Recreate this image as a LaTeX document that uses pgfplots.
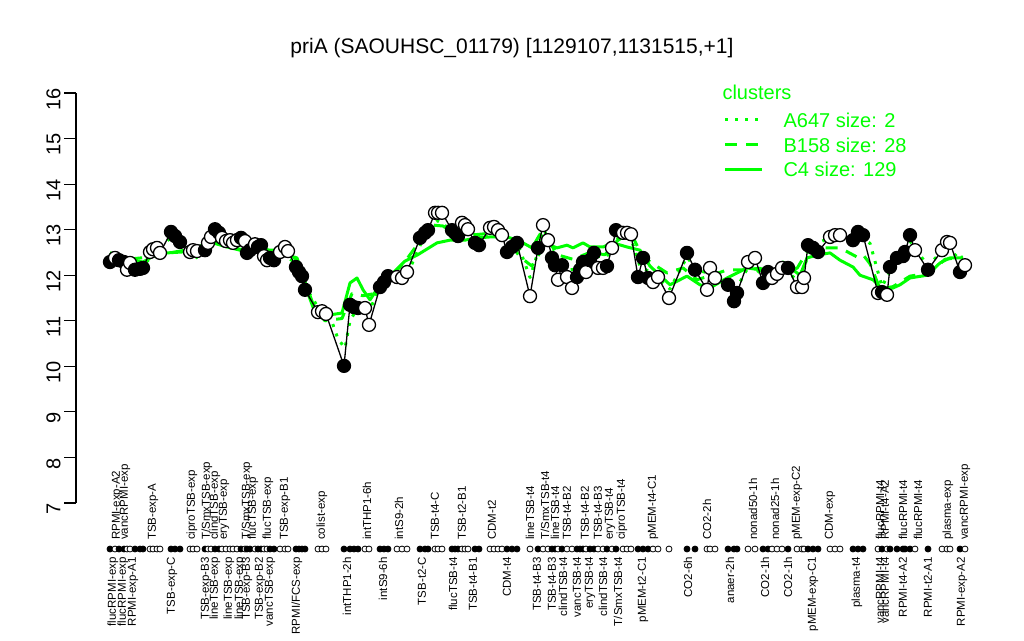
\documentclass[border=0pt]{standalone}
\usepackage{fontspec}
\setmainfont{Liberation Sans}
\usepackage{pgfplots}
\usepackage{pgfplotstable}
\pgfplotsset{compat=1.18}
\definecolor{rgreen}{RGB}{0,255,0}

% samples: x position, expression, filled (F) or open (O)
\pgfplotstableread{
x v f
110 12.29 F
115 12.38 O
119 12.33 F
124 12.29 F
127 12.12 O
130 12.27 O
135 12.12 F
140 12.14 F
143 12.16 F
150 12.51 O
153 12.57 O
157 12.60 O
160 12.49 O
171 12.95 F
175 12.86 F
180 12.73 F
190 12.51 O
193 12.55 O
197 12.53 O
205 12.55 F
208 12.71 O
211 12.84 O
215 13.01 F
219 12.93 F
222 12.82 O
226 12.75 O
230 12.77 O
233 12.71 O
237 12.77 O
241 12.82 F
245 12.75 O
247 12.49 F
250 12.55 F
255 12.68 O
258 12.62 F
261 12.66 F
264 12.42 O
267 12.33 O
270 12.38 F
274 12.33 F
280 12.51 O
285 12.62 O
288 12.53 O
296 12.18 F
299 12.07 F
302 11.98 F
305 11.68 F
318 11.19 O
322 11.21 O
326 11.15 O
344 10.01 F
350 11.35 F
354 11.30 F
358 11.28 F
365 11.28 O
369 10.91 O
380 11.74 F
384 11.85 F
388 11.98 F
397 11.96 O
402 11.94 O
407 12.07 O
420 12.82 F
425 12.93 F
428 12.99 F
435 13.37 O
438 13.37 O
442 13.37 O
452 12.99 F
455 12.93 F
458 12.86 F
462 13.15 O
465 13.10 O
468 13.01 O
475 12.71 F
479 12.66 F
490 13.04 O
494 13.06 O
498 12.99 O
502 12.88 O
507 12.51 F
512 12.62 F
517 12.71 F
530 11.54 O
538 12.60 F
543 13.10 O
548 12.77 O
552 12.38 F
555 12.22 F
558 11.90 O
562 12.22 F
567 11.96 O
572 11.72 O
577 11.96 F
580 12.12 F
583 12.29 F
586 12.07 O
590 12.33 F
594 12.49 F
598 12.16 O
603 12.16 O
607 12.20 F
612 12.60 O
616 12.99 F
623 12.93 O
627 12.93 O
631 12.90 O
638 11.96 F
643 12.38 F
648 11.94 F
653 11.85 O
658 11.96 O
669 11.50 O
687 12.49 F
695 12.12 F
707 11.68 O
710 12.16 O
715 11.94 O
728 11.79 F
734 11.43 F
737 11.61 F
748 12.29 O
755 12.38 O
763 11.83 F
768 12.07 F
772 11.94 O
777 12.03 O
782 12.16 O
788 12.16 F
797 11.74 O
802 11.74 O
804 11.94 O
808 12.66 F
813 12.60 F
818 12.51 F
830 12.84 O
835 12.88 O
840 12.88 O
853 12.77 F
858 12.95 F
863 12.88 F
878 11.61 O
882 11.63 F
887 11.57 O
890 12.18 F
897 12.38 F
903 12.42 F
905 12.51 F
910 12.88 F
915 12.55 O
928 12.12 F
942 12.55 O
947 12.73 O
950 12.71 O
960 12.07 F
965 12.22 O
}\samples

% cluster C4 (solid)
\pgfplotstableread{
x v
110 12.49
120 12.38
132 12.33
143 12.29
150 12.38
155 12.49
167 12.49
182 12.51
190 12.55
200 12.55
213 12.71
227 12.62
240 12.55
247 12.49
257 12.60
270 12.55
285 12.55
297 12.33
303 11.90
313 11.30
320 11.08
330 11.13
342 11.17
350 11.83
357 11.94
363 11.68
370 11.46
380 11.79
393 12.05
405 12.31
417 12.44
437 12.71
450 12.77
465 12.77
477 12.82
490 12.84
507 12.84
517 12.77
523 12.71
532 12.60
540 12.90
550 12.66
557 12.60
567 12.66
573 12.60
583 12.71
590 12.62
603 12.62
613 12.71
627 12.62
640 12.55
650 12.20
670 11.79
687 11.98
700 11.79
710 11.72
727 11.94
747 12.16
760 12.12
772 11.96
783 12.29
793 12.12
800 12.00
807 12.38
817 12.44
830 12.49
840 12.33
853 12.18
860 12.00
873 11.90
883 11.68
893 11.72
900 11.79
910 11.94
927 12.00
940 12.27
950 12.38
963 12.38
}\clusterC

% cluster B158 (dashed)
\pgfplotstableread{
x v
110 12.49
132 12.36
150 12.40
170 12.49
190 12.57
213 12.73
240 12.57
270 12.57
297 12.38
305 11.85
315 11.25
325 11.00
342 11.05
352 11.60
363 11.55
375 11.60
390 11.95
405 12.30
420 12.75
433 13.10
443 13.08
455 12.90
470 12.88
490 12.92
507 12.80
520 12.40
532 12.20
540 12.50
548 12.80
557 12.45
573 12.35
590 12.50
605 12.45
617 12.75
630 12.95
643 12.40
653 12.25
667 12.05
683 12.16
697 11.90
728 12.12
743 12.12
760 12.15
773 12.07
783 12.18
797 12.15
808 12.55
820 12.60
840 12.60
857 12.40
863 12.45
870 12.25
880 11.70
893 11.75
910 11.98
930 12.05
945 12.35
963 12.40
}\clusterB

% cluster A647 (dotted)
\pgfplotstableread{
x v
110 12.40
125 12.25
143 12.20
155 12.50
172 12.85
180 12.75
195 12.35
210 12.75
220 12.90
245 12.70
262 12.55
280 12.50
297 12.25
305 11.75
318 11.30
330 11.10
338 10.60
345 10.40
350 11.00
358 11.30
369 11.20
380 11.75
395 12.00
410 12.15
422 12.75
437 13.20
455 12.95
465 13.05
478 12.75
495 12.95
510 12.62
520 12.55
530 11.95
540 12.65
545 12.95
555 12.35
565 12.10
580 12.15
595 12.40
610 12.45
620 12.90
628 13.00
640 12.20
655 12.00
670 11.70
687 12.40
697 12.10
710 12.05
735 11.65
750 12.25
765 11.95
785 12.10
800 11.85
810 12.60
835 12.90
860 12.85
870 12.70
882 11.75
895 12.30
910 12.75
928 12.20
947 12.65
963 12.25
}\clusterA

\begin{document}
\begin{tikzpicture}[x=1pt,y=1pt]
\path[use as bounding box, fill=white] (-76,-137) rectangle (948,503);
\begin{axis}[
  at={(0,0)}, anchor=south west,
  scale only axis, width=924pt, height=410pt,
  xmin=76, xmax=1000, ymin=7, ymax=16,
  clip=false,
  axis x line=none, axis y line*=left,
  axis line style={black, line width=1.2pt},
  ytick={7,8,...,16},
  tick align=outside, major tick length=12pt,
  ytick style={black, line width=1.2pt},
  yticklabel style={rotate=90, anchor=south, xshift=-6pt, font=\fontsize{20}{24}\selectfont},
  /pgf/number format/assume math mode=true,
  every axis plot/.append style={line join=round},
]
\addplot[rgreen, line width=3pt, dash pattern=on 3pt off 7pt] table[x=x,y=v]{\clusterA};
\addplot[rgreen, line width=3pt, dash pattern=on 12pt off 9pt] table[x=x,y=v]{\clusterB};
\addplot[rgreen, line width=3pt] table[x=x,y=v]{\clusterC};

\addplot[black, line width=1.3pt] table[x=x,y=v]{\samples};
\addplot[scatter, only marks, mark=*, mark size=6.5pt,
  scatter src=explicit symbolic,
  scatter/classes={F={mark=*, draw=black, fill=black}, O={mark=*, draw=black, fill=white}},
  mark options={line width=1.3pt}]
  table[x=x,y=v,meta=f]{\samples};
% rug of samples
\addplot[scatter, only marks, mark=*, mark size=3pt,
  scatter src=explicit symbolic,
  scatter/classes={F={mark=*, draw=black, fill=black}, O={mark=*, draw=black, fill=white}},
  mark options={line width=0.8pt}]
  table[x=x,y expr=5.99,meta=f]{\samples};

% title
\node[font=\fontsize{21}{25}\selectfont] at (axis cs:512,16.99) {priA (SAOUHSC\_01179) [1129107,1131515,+1]};

% legend
\node[anchor=west, text=rgreen, font=\fontsize{20}{24}\selectfont] at (axis cs:719,16.02) {clusters};
\draw[rgreen, line width=3pt, dash pattern=on 3pt off 7pt] (axis cs:725,15.41) -- (axis cs:762,15.41);
\draw[rgreen, line width=3pt, dash pattern=on 12pt off 9pt] (axis cs:725,14.86) -- (axis cs:762,14.86);
\draw[rgreen, line width=3pt] (axis cs:725,14.33) -- (axis cs:762,14.33);
\node[anchor=west, text=rgreen, font=\fontsize{20}{24}\selectfont] at (axis cs:780,15.41) {A647 size: 2};
\node[anchor=west, text=rgreen, font=\fontsize{20}{24}\selectfont] at (axis cs:780,14.86) {B158 size: 28};
\node[anchor=west, text=rgreen, font=\fontsize{20}{24}\selectfont] at (axis cs:780,14.33) {C4 size: 129};
\end{axis}

% sample labels above the rug (1pt = 1px; axis x origin at px 76, rug at -46)
\foreach \px/\lab in {117/RPMI-exp-A2, 125/vancRPMI-exp, 153/TSB-exp-A, 192/ciproTSB-exp,
  207/T\slash SmxTSB-exp, 215/clindTSB-exp, 224/eryTSB-exp, 247/T\slash SmxTSB-exp,
  253/flucTSB-exp, 268/flucTSB-exp, 285/TSB-exp-B1, 322/colist-exp, 367/intTHP1-6h,
  399/intS9-2h, 435/TSB-t4-C, 462/TSB-t2-B1, 492/CDM-t2, 530/lineTSB-t4,
  545/T\slash SmxTSB-t4, 555/lineTSB-t4, 567/TSB-t4-B2, 585/TSB-t4-B2, 598/TSB-t4-B3,
  610/eryTSB-t4, 622/ciproTSB-t4, 653/pMEM-t4-C1, 707/CO2-2h, 753/nonad50-1h,
  775/nonad25-1h, 797/pMEM-exp-C2, 830/CDM-exp, 880/flucRPMI-t4, 885/RPMI-t4-A2,
  903/flucRPMI-t4, 918/flucRPMI-t4, 948/plasma-exp, 965/vancRPMI-exp}
  {\node[rotate=90, anchor=west, inner sep=0pt, font=\fontsize{11.5}{13}\selectfont] at (\px-76,-37) {\lab};}
% sample labels below the rug
\foreach \px/\lab in {113/flucRPMI-exp, 123/flucRPMI-exp, 133/RPMI-exp-A1, 172/TSB-exp-C,
  206/TSB-exp-B3, 215/lineTSB-exp, 229/lineTSB-exp, 240/lineTSB-exp, 247/TSB-exp-B3,
  260/TSB-exp-B2, 270/vancTSB-exp, 297/RPMI\slash FCS-exp, 347/intTHP1-2h, 383/intS9-6h,
  422/TSB-t2-C, 453/flucTSB-t4, 473/TSB-t4-B1, 507/CDM-t4, 537/TSB-t4-B3, 552/TSB-t4-B3,
  563/clindTSB-t4, 577/vancTSB-t4, 590/eryTSB-t4, 603/clindTSB-t4, 618/T\slash SmxTSB-t4,
  643/pMEM-t2-C1, 688/CO2-6h, 730/anaer-2h, 765/CO2-1h, 788/CO2-1h, 813/pMEM-exp-C1,
  857/plasma-t4, 880/vancRPMI-t4, 885/vancRPMI-t4, 903/RPMI-t4-A2, 928/RPMI-t2-A1,
  962/RPMI-exp-A2}
  {\node[rotate=90, anchor=east, inner sep=0pt, font=\fontsize{11.5}{13}\selectfont] at (\px-76,-54) {\lab};}
\end{tikzpicture}
\end{document}
